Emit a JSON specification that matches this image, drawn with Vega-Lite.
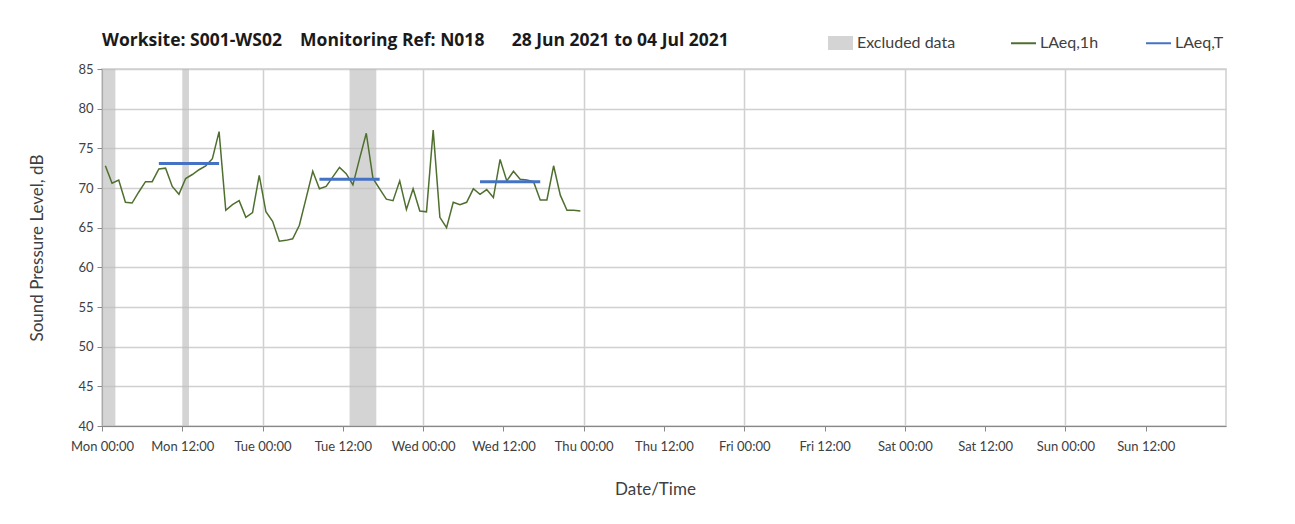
{
  "$schema": "https://vega.github.io/schema/vega-lite/v6.json",
  "width": 1124,
  "height": 357,
  "autosize": "none",
  "padding": {"left": 102, "top": 69, "right": 69, "bottom": 98},
  "background": "white",
  "title": {
    "text": "Worksite: S001-WS02\u00a0\u00a0\u00a0\u00a0Monitoring Ref: N018\u00a0\u00a0\u00a0\u00a0\u00a0\u00a028 Jun 2021 to 04 Jul 2021",
    "anchor": "start",
    "frame": "group",
    "font": "Open Sans",
    "fontSize": 17.5,
    "fontWeight": "bold",
    "color": "#1a1a1a",
    "offset": -20
  },
  "config": {
    "view": {"stroke": "#D0D0D0", "strokeWidth": 1.5},
    "font": "Lato",
    "axis": {
      "labelFont": "Lato",
      "titleFont": "Lato",
      "labelFontSize": 13,
      "labelColor": "#404040",
      "titleColor": "#404040",
      "titleFontSize": 17,
      "titleFontWeight": "normal",
      "tickColor": "#888888",
      "domainColor": "#888888",
      "tickSize": 5,
      "gridColor": "#D0D0D0",
      "gridWidth": 1.5
    },
    "legend": {
      "orient": "none",
      "direction": "horizontal",
      "labelFont": "Lato",
      "labelFontSize": 16,
      "labelColor": "#404040",
      "padding": 0,
      "labelOffset": 3
    }
  },
  "resolve": {"axis": {"x": "independent"}},
  "datasets": {
    "excluded": [
      {"start": "2021-06-28T00:00:00", "end": "2021-06-28T02:00:00", "series": "Excluded data"},
      {"start": "2021-06-28T12:00:00", "end": "2021-06-28T13:00:00", "series": "Excluded data"},
      {"start": "2021-06-29T13:00:00", "end": "2021-06-29T17:00:00", "series": "Excluded data"}
    ],
    "hourly": [
      {"t": "2021-06-28T00:30:00", "v": 72.8, "series": "LAeq,1h"},
      {"t": "2021-06-28T01:30:00", "v": 70.6, "series": "LAeq,1h"},
      {"t": "2021-06-28T02:30:00", "v": 71.0, "series": "LAeq,1h"},
      {"t": "2021-06-28T03:30:00", "v": 68.2, "series": "LAeq,1h"},
      {"t": "2021-06-28T04:30:00", "v": 68.1, "series": "LAeq,1h"},
      {"t": "2021-06-28T05:30:00", "v": 69.5, "series": "LAeq,1h"},
      {"t": "2021-06-28T06:30:00", "v": 70.8, "series": "LAeq,1h"},
      {"t": "2021-06-28T07:30:00", "v": 70.8, "series": "LAeq,1h"},
      {"t": "2021-06-28T08:30:00", "v": 72.4, "series": "LAeq,1h"},
      {"t": "2021-06-28T09:30:00", "v": 72.5, "series": "LAeq,1h"},
      {"t": "2021-06-28T10:30:00", "v": 70.2, "series": "LAeq,1h"},
      {"t": "2021-06-28T11:30:00", "v": 69.2, "series": "LAeq,1h"},
      {"t": "2021-06-28T12:30:00", "v": 71.2, "series": "LAeq,1h"},
      {"t": "2021-06-28T13:30:00", "v": 71.7, "series": "LAeq,1h"},
      {"t": "2021-06-28T14:30:00", "v": 72.3, "series": "LAeq,1h"},
      {"t": "2021-06-28T15:30:00", "v": 72.8, "series": "LAeq,1h"},
      {"t": "2021-06-28T16:30:00", "v": 73.7, "series": "LAeq,1h"},
      {"t": "2021-06-28T17:30:00", "v": 77.1, "series": "LAeq,1h"},
      {"t": "2021-06-28T18:30:00", "v": 67.2, "series": "LAeq,1h"},
      {"t": "2021-06-28T19:30:00", "v": 67.9, "series": "LAeq,1h"},
      {"t": "2021-06-28T20:30:00", "v": 68.4, "series": "LAeq,1h"},
      {"t": "2021-06-28T21:30:00", "v": 66.3, "series": "LAeq,1h"},
      {"t": "2021-06-28T22:30:00", "v": 66.9, "series": "LAeq,1h"},
      {"t": "2021-06-28T23:30:00", "v": 71.6, "series": "LAeq,1h"},
      {"t": "2021-06-29T00:30:00", "v": 67.0, "series": "LAeq,1h"},
      {"t": "2021-06-29T01:30:00", "v": 65.8, "series": "LAeq,1h"},
      {"t": "2021-06-29T02:30:00", "v": 63.3, "series": "LAeq,1h"},
      {"t": "2021-06-29T03:30:00", "v": 63.4, "series": "LAeq,1h"},
      {"t": "2021-06-29T04:30:00", "v": 63.6, "series": "LAeq,1h"},
      {"t": "2021-06-29T05:30:00", "v": 65.3, "series": "LAeq,1h"},
      {"t": "2021-06-29T06:30:00", "v": 68.7, "series": "LAeq,1h"},
      {"t": "2021-06-29T07:30:00", "v": 72.1, "series": "LAeq,1h"},
      {"t": "2021-06-29T08:30:00", "v": 69.9, "series": "LAeq,1h"},
      {"t": "2021-06-29T09:30:00", "v": 70.2, "series": "LAeq,1h"},
      {"t": "2021-06-29T10:30:00", "v": 71.4, "series": "LAeq,1h"},
      {"t": "2021-06-29T11:30:00", "v": 72.6, "series": "LAeq,1h"},
      {"t": "2021-06-29T12:30:00", "v": 71.8, "series": "LAeq,1h"},
      {"t": "2021-06-29T13:30:00", "v": 70.4, "series": "LAeq,1h"},
      {"t": "2021-06-29T14:30:00", "v": 73.7, "series": "LAeq,1h"},
      {"t": "2021-06-29T15:30:00", "v": 76.9, "series": "LAeq,1h"},
      {"t": "2021-06-29T16:30:00", "v": 71.2, "series": "LAeq,1h"},
      {"t": "2021-06-29T17:30:00", "v": 69.9, "series": "LAeq,1h"},
      {"t": "2021-06-29T18:30:00", "v": 68.6, "series": "LAeq,1h"},
      {"t": "2021-06-29T19:30:00", "v": 68.4, "series": "LAeq,1h"},
      {"t": "2021-06-29T20:30:00", "v": 70.9, "series": "LAeq,1h"},
      {"t": "2021-06-29T21:30:00", "v": 67.3, "series": "LAeq,1h"},
      {"t": "2021-06-29T22:30:00", "v": 69.9, "series": "LAeq,1h"},
      {"t": "2021-06-29T23:30:00", "v": 67.1, "series": "LAeq,1h"},
      {"t": "2021-06-30T00:30:00", "v": 67.0, "series": "LAeq,1h"},
      {"t": "2021-06-30T01:30:00", "v": 77.3, "series": "LAeq,1h"},
      {"t": "2021-06-30T02:30:00", "v": 66.3, "series": "LAeq,1h"},
      {"t": "2021-06-30T03:30:00", "v": 65.0, "series": "LAeq,1h"},
      {"t": "2021-06-30T04:30:00", "v": 68.2, "series": "LAeq,1h"},
      {"t": "2021-06-30T05:30:00", "v": 67.9, "series": "LAeq,1h"},
      {"t": "2021-06-30T06:30:00", "v": 68.2, "series": "LAeq,1h"},
      {"t": "2021-06-30T07:30:00", "v": 69.9, "series": "LAeq,1h"},
      {"t": "2021-06-30T08:30:00", "v": 69.2, "series": "LAeq,1h"},
      {"t": "2021-06-30T09:30:00", "v": 69.8, "series": "LAeq,1h"},
      {"t": "2021-06-30T10:30:00", "v": 68.8, "series": "LAeq,1h"},
      {"t": "2021-06-30T11:30:00", "v": 73.6, "series": "LAeq,1h"},
      {"t": "2021-06-30T12:30:00", "v": 70.9, "series": "LAeq,1h"},
      {"t": "2021-06-30T13:30:00", "v": 72.1, "series": "LAeq,1h"},
      {"t": "2021-06-30T14:30:00", "v": 71.1, "series": "LAeq,1h"},
      {"t": "2021-06-30T15:30:00", "v": 71.0, "series": "LAeq,1h"},
      {"t": "2021-06-30T16:30:00", "v": 70.8, "series": "LAeq,1h"},
      {"t": "2021-06-30T17:30:00", "v": 68.5, "series": "LAeq,1h"},
      {"t": "2021-06-30T18:30:00", "v": 68.5, "series": "LAeq,1h"},
      {"t": "2021-06-30T19:30:00", "v": 72.8, "series": "LAeq,1h"},
      {"t": "2021-06-30T20:30:00", "v": 69.1, "series": "LAeq,1h"},
      {"t": "2021-06-30T21:30:00", "v": 67.2, "series": "LAeq,1h"},
      {"t": "2021-06-30T22:30:00", "v": 67.2, "series": "LAeq,1h"},
      {"t": "2021-06-30T23:30:00", "v": 67.1, "series": "LAeq,1h"}
    ],
    "periods": [
      {"start": "2021-06-28T08:30:00", "end": "2021-06-28T17:30:00", "v": 73.1, "series": "LAeq,T"},
      {"start": "2021-06-29T08:30:00", "end": "2021-06-29T17:30:00", "v": 71.1, "series": "LAeq,T"},
      {"start": "2021-06-30T08:30:00", "end": "2021-06-30T17:30:00", "v": 70.8, "series": "LAeq,T"}
    ]
  },
  "layer": [
    {
      "data": {"name": "excluded"},
      "mark": {"type": "rect", "opacity": 0.65},
      "encoding": {
        "x": {
          "field": "start",
          "type": "temporal",
          "scale": {
            "domain": ["2021-06-28T00:00:00", "2021-07-04T23:59:59"],
            "nice": false
          },
          "axis": {
            "orient": "bottom",
            "title": null,
            "tickCount": 7,
            "grid": true,
            "labels": false,
            "ticks": false,
            "domain": false
          }
        },
        "x2": {"field": "end"},
        "fill": {
          "field": "series",
          "type": "nominal",
          "scale": {"domain": ["Excluded data"], "range": ["#BDBDBD"]},
          "legend": {
            "title": null,
            "legendX": 725,
            "legendY": -39.5,
            "symbolType": "M-1,-0.56H1V0.56H-1Z",
            "symbolSize": 625
          }
        }
      }
    },
    {
      "data": {"name": "hourly"},
      "mark": {"type": "line", "strokeWidth": 1.5},
      "encoding": {
        "x": {
          "field": "t",
          "type": "temporal",
          "axis": {
            "orient": "bottom",
            "title": "Date/Time",
            "format": "%a %H:%M",
            "tickCount": 14,
            "grid": false,
            "labelPadding": 9,
            "labelFlush": false,
            "labelOverlap": false,
            "titleX": 553,
            "titleY": 55
          }
        },
        "y": {
          "field": "v",
          "type": "quantitative",
          "scale": {"domain": [40, 85], "nice": false, "zero": false},
          "axis": {
            "title": "Sound Pressure Level, dB",
            "values": [40, 45, 50, 55, 60, 65, 70, 75, 80, 85],
            "grid": true,
            "labelPadding": 4,
            "titlePadding": 31
          }
        },
        "stroke": {
          "field": "series",
          "type": "nominal",
          "scale": {"domain": ["LAeq,1h", "LAeq,T"], "range": ["#4F6F2E", "#4472C4"]},
          "legend": {
            "title": null,
            "legendX": 908,
            "legendY": -39.5,
            "symbolType": "stroke",
            "symbolSize": 625,
            "symbolStrokeWidth": 2,
            "columnPadding": 43
          }
        }
      }
    },
    {
      "data": {"name": "periods"},
      "mark": {"type": "rule", "strokeWidth": 3},
      "encoding": {
        "x": {"field": "start", "type": "temporal", "axis": null},
        "x2": {"field": "end"},
        "y": {
          "field": "v",
          "type": "quantitative",
          "axis": {
            "title": "Sound Pressure Level, dB",
            "values": [40, 45, 50, 55, 60, 65, 70, 75, 80, 85],
            "grid": true,
            "labelPadding": 4,
            "titlePadding": 31
          }
        },
        "stroke": {"field": "series", "type": "nominal"}
      }
    }
  ]
}
